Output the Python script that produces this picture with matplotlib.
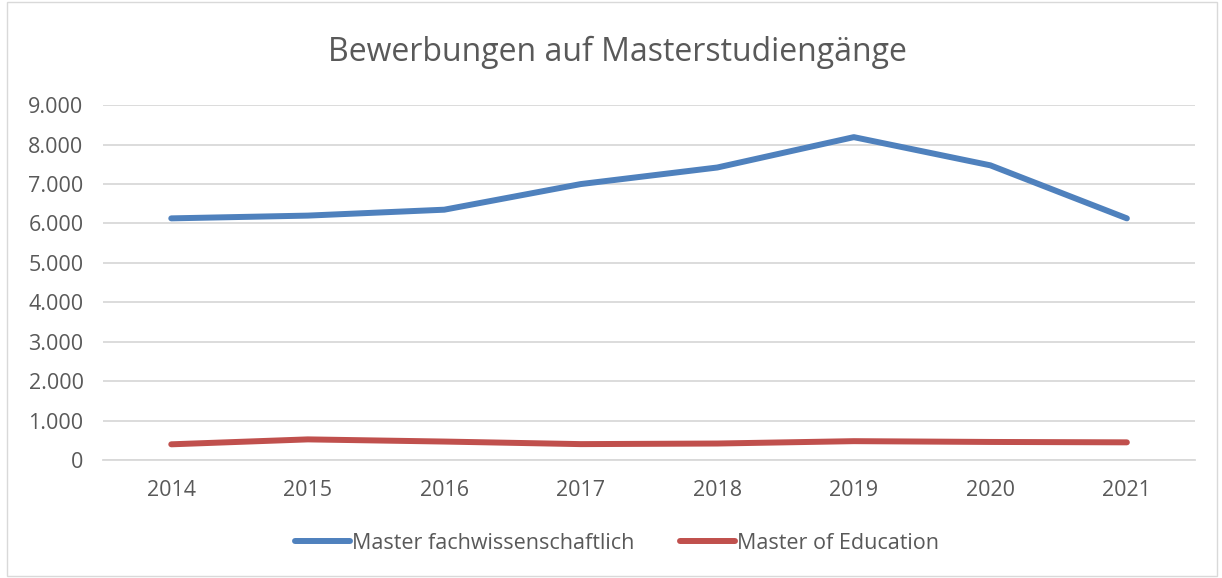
import matplotlib.pyplot as plt
import matplotlib.patches as patches
from matplotlib.ticker import FuncFormatter

years = ["2014", "2015", "2016", "2017", "2018", "2019", "2020", "2021"]
fach = [6130, 6200, 6350, 7000, 7420, 8190, 7475, 6130]
med = [400, 525, 470, 405, 420, 480, 460, 450]

plt.rcParams['font.family'] = ['Open Sans', 'DejaVu Sans']
text_col = "#595959"

fig = plt.figure(figsize=(12.22, 5.78), dpi=100)
ax = fig.add_axes([0.0843, 0.204, 0.8937, 0.614])

# Excel-like chart border
fig.patches.append(patches.Rectangle((0.006, 0.003), 0.99, 0.994, transform=fig.transFigure,
                                     fill=False, edgecolor="#D9D9D9", linewidth=1))

x = range(len(years))
ax.plot(x, fach, color="#4F81BD", linewidth=4.3, solid_capstyle="round",
        label="Master fachwissenschaftlich")
ax.plot(x, med, color="#C0504D", linewidth=4.3, solid_capstyle="round",
        label="Master of Education")

ax.set_xlim(-0.5, len(years) - 0.5)
ax.set_ylim(0, 9000)
ax.set_yticks(range(0, 9001, 1000))
ax.yaxis.set_major_formatter(FuncFormatter(lambda v, p: f"{int(v):,}".replace(",", ".")))
ax.set_xticks(list(x))
ax.set_xticklabels(years)
ax.grid(axis="y", color="#D9D9D9", linewidth=1.3)
ax.set_axisbelow(True)
for s in ["top", "right", "left"]:
    ax.spines[s].set_visible(False)
ax.spines["bottom"].set_color("#D9D9D9")
ax.spines["bottom"].set_linewidth(1.3)
ax.tick_params(length=0, labelsize=15.5, colors=text_col)
ax.tick_params(axis="x", pad=14)
ax.tick_params(axis="y", pad=14)

fig.text(0.505, 0.91, "Bewerbungen auf Masterstudiengänge", ha="center", va="center",
         fontsize=23, color=text_col)

leg = fig.legend(loc="center", bbox_to_anchor=(0.505, 0.06), ncol=2, frameon=False,
                 fontsize=15.5, handlelength=2.55, handletextpad=0.1, columnspacing=2.1)
for t in leg.get_texts():
    t.set_color(text_col)

fig.savefig("out.png", dpi=100)
